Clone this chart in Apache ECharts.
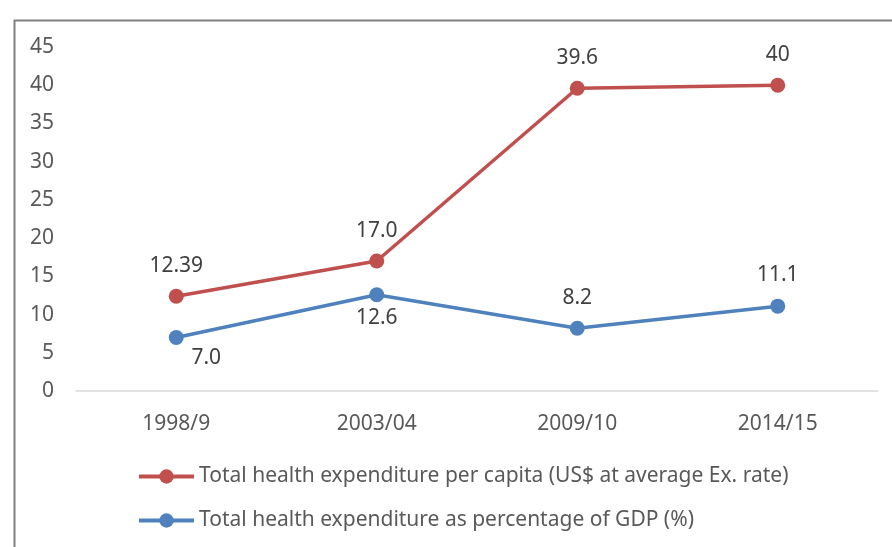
<!DOCTYPE html>
<html><head><meta charset="utf-8">
<script src="https://cdn.jsdelivr.net/npm/echarts@6/dist/echarts.min.js"></script>
<style>html,body{margin:0;padding:0;background:#fff}#c{width:892px;height:547px}</style>
</head><body><div id="c"></div>
<script>
var categories = ['1998/9', '2003/04', '2009/10', '2014/15'];
var perCapita = [12.39, 17.0, 39.6, 40];
var perCapitaLabels = ['12.39', '17.0', '39.6', '40'];
var pctGdp = [7.0, 12.6, 8.2, 11.1];
var pctGdpLabels = ['7.0', '12.6', '8.2', '11.1'];
var seriesNames = ['Total health expenditure per capita (US$ at average Ex. rate)', 'Total health expenditure as percentage of GDP (%)'];
var yTicks = {min: 0, max: 45, interval: 5};

var FONT = 'Noto Sans';
var FS = 21;
var chart = echarts.init(document.getElementById('c'), null, {renderer: 'canvas'});

var blueLabelCfg = [
  {position: 'bottom', distance: 3, offset: [30, 0]},
  {position: 'bottom', distance: 5},
  {position: 'top', distance: 12},
  {position: 'top', distance: 13}
];

chart.setOption({
  animation: false,
  graphic: [{
    type: 'rect', left: 12, top: 18, shape: {x: 0, y: 0, width: 920, height: 600},
    style: {fill: 'none', stroke: '#808080', lineWidth: 2}, silent: true, z: -1
  }],
  grid: {left: 76, right: 14, top: 47, bottom: 156},
  legend: {
    orient: 'vertical', left: 137, top: 466, padding: 0,
    itemWidth: 55, itemHeight: 18, itemGap: 23,
    lineStyle: {width: 4},
    textStyle: {fontFamily: FONT, fontSize: FS, color: '#595959'},
    data: seriesNames
  },
  xAxis: {
    type: 'category', data: categories, boundaryGap: true,
    axisLine: {lineStyle: {color: '#d9d9d9', width: 1.5}},
    axisTick: {show: false},
    axisLabel: {fontFamily: FONT, fontSize: FS, color: '#595959', margin: 23}
  },
  yAxis: {
    type: 'value', min: yTicks.min, max: yTicks.max, interval: yTicks.interval,
    axisLine: {show: false}, axisTick: {show: false}, splitLine: {show: false},
    axisLabel: {fontFamily: FONT, fontSize: FS, color: '#595959', margin: 22}
  },
  series: [{
    name: seriesNames[0], type: 'line', data: perCapita,
    symbol: 'circle', symbolSize: 15,
    lineStyle: {color: '#C0504D', width: 3.5}, itemStyle: {color: '#C0504D'},
    label: {show: true, position: 'top', distance: 12, fontFamily: FONT, fontSize: FS, color: '#404040',
      formatter: function (p) { return perCapitaLabels[p.dataIndex]; }}
  }, {
    name: seriesNames[1], type: 'line',
    data: pctGdp.map(function (v, i) { return {value: v, label: blueLabelCfg[i]}; }),
    symbol: 'circle', symbolSize: 15,
    lineStyle: {color: '#4F81BD', width: 3.5}, itemStyle: {color: '#4F81BD'},
    label: {show: true, fontFamily: FONT, fontSize: FS, color: '#404040',
      formatter: function (p) { return pctGdpLabels[p.dataIndex]; }}
  }]
});
</script></body></html>
